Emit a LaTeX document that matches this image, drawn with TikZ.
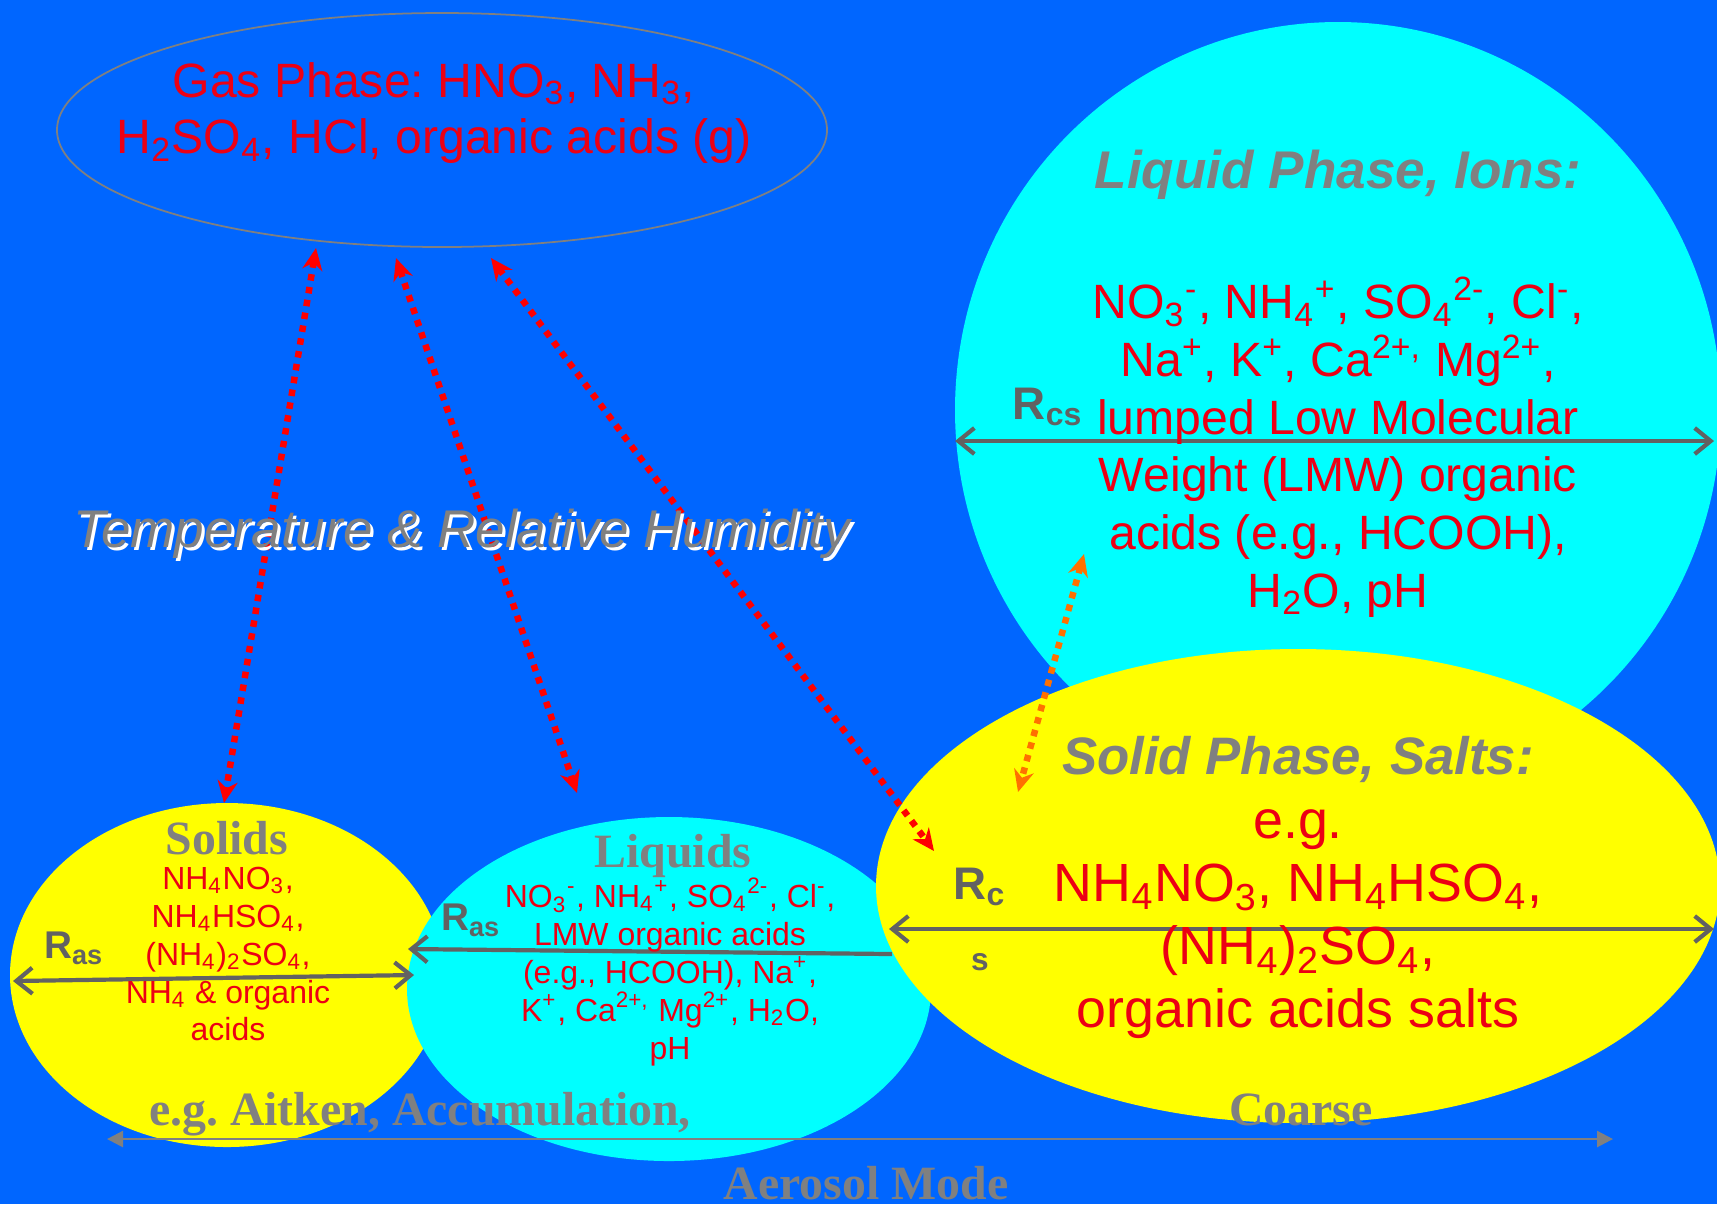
\documentclass[tikz,border=0pt]{standalone}
\usepackage{fontspec}
\setmainfont{Liberation Sans}
\newfontfamily\timesfont{Liberation Serif}
\usetikzlibrary{shapes.geometric,arrows.meta}
\frenchspacing

\definecolor{bgblue}{RGB}{0,102,255}
\definecolor{ionscyan}{RGB}{0,255,255}
\definecolor{saltyellow}{RGB}{255,255,0}
\definecolor{inkred}{RGB}{236,0,20}
\definecolor{dotred}{RGB}{255,0,0}
\definecolor{titlegray}{RGB}{128,128,128}
\definecolor{ratedark}{RGB}{98,98,98}
\definecolor{dotorange}{RGB}{255,112,0}

\begin{document}
\begin{tikzpicture}[x=0.1mm,y=-0.1mm,
    blob/.style={ellipse,inner sep=0pt,outer sep=0pt},
    redink/.style={text=inkred,align=center},
    bigred/.style={redink,font=\fontsize{13.7}{16.4}\selectfont},
    smallred/.style={redink,font=\fontsize{9.1}{10.8}\selectfont},
    phasetitle/.style={text=titlegray,font=\fontsize{15.1}{18}\selectfont\bfseries\itshape},
    modetitle/.style={text=titlegray,font=\fontsize{13.6}{16}\selectfont\timesfont\bfseries},
    ratelabel/.style={text=ratedark,font=\fontsize{#1}{#1}\selectfont\bfseries},
    rate/.style={draw=ratedark,line width=0.42mm},
    heat/.style={line width=0.65mm,dash pattern=on 0.65mm off 0.65mm},
    ratetip/.tip={Straight Barb[length=1.6mm,width=2.6mm]},
    heattip/.tip={Stealth[length=2.2mm,width=2mm]},
    modetip/.tip={Triangle[length=1.6mm,width=1.6mm]}]

    % Fondo
    \useasboundingbox (0,0) rectangle (1717,1204);
    \clip (0,0) rectangle (1717,1204);
    \fill[bgblue] (0,0) rectangle (1717,1204);

    % Solidos y liquidos (modos finos)
    \node[blob,fill=saltyellow,minimum width=43.4mm,minimum height=34.4mm] (solids) at (227,975) {};
    \node[blob,fill=ionscyan,minimum width=52.4mm,minimum height=34.4mm] (liquids) at (669,989) {};
    \coordinate (liqR) at (892,954);
    \coordinate (liqL) at (408,949);
    \draw[rate,ratetip-] (liqL) -- (liqR);

    % Fase liquida
    \node[blob,fill=ionscyan,minimum width=76.6mm,minimum height=77.6mm] (ions) at (1338,410) {};
    \coordinate (ionsL) at (955,441);
    \coordinate (ionsR) at (1714,441);
    \draw[rate,ratetip-ratetip] (ionsL) -- (ionsR);

    % Fase solida
    \node[blob,fill=saltyellow,minimum width=84.4mm,minimum height=47.4mm] (salts) at (1298,886) {};
    \coordinate (saltsL) at (889,929);
    \coordinate (saltsR) at (1714,929);
    \draw[rate,ratetip-ratetip] (saltsL) -- (saltsR);

    \coordinate (solL) at (13,981);
    \coordinate (solR) at (414,975);
    \draw[rate,ratetip-ratetip] (solL) -- (solR);

    % Fase gaseosa
    \node[blob,draw=titlegray,line width=0.5pt,minimum width=77mm,minimum height=23.4mm] (gas) at (442,130) {};

    % Flechas punteadas
    \coordinate (g1) at (316,248);
    \coordinate (s1) at (224,803);
    \coordinate (g2) at (396,258);
    \coordinate (l2) at (577,793);
    \coordinate (g3) at (491,258);
    \coordinate (c3) at (934,851);
    \coordinate (i4) at (1084,554);
    \coordinate (c4) at (1018,792);
    \draw[heat,dotred,heattip-heattip] (g1) -- (s1);
    \draw[heat,dotred,heattip-heattip] (g2) -- (l2);
    \draw[heat,dotred,heattip-heattip] (g3) -- (c3);
    \draw[heat,dotorange,heattip-heattip] (i4) -- (c4);

    % Modo del aerosol
    \coordinate (modeL) at (107,1139);
    \coordinate (modeR) at (1613,1139);
    \draw[titlegray,line width=0.25mm,modetip-modetip] (modeL) -- (modeR);

    % Textos
    \node[bigred,font=\fontsize{13.7}{16.2}\selectfont] (gastext) at (434,113)
        {Gas Phase: HNO\textsubscript{3}, NH\textsubscript{3},\\
         H\textsubscript{2}SO\textsubscript{4}, HCl, organic acids (g)};

    \node[phasetitle] (ionstitle) at (1338,175) {Liquid Phase, Ions:};
    \node[bigred] (ionstext) at (1338,447)
        {NO\textsubscript{3}\textsuperscript{-}, NH\textsubscript{4}\textsuperscript{+}, SO\textsubscript{4}\textsuperscript{2-}, Cl\textsuperscript{-},\\
         Na\textsuperscript{+}, K\textsuperscript{+}, Ca\textsuperscript{2+,} Mg\textsuperscript{2+},\\
         lumped Low Molecular\\
         Weight (LMW) organic\\
         acids (e.g., HCOOH),\\
         H\textsubscript{2}O, pH};
    \node[ratelabel=13] (rcs) at (1048,407) {R\textsubscript{cs}};

    \node[phasetitle,font=\fontsize{15}{18}\selectfont\bfseries\itshape] (saltstitle) at (1298,759) {Solid Phase, Salts:};
    \node[redink,font=\fontsize{15.3}{18}\selectfont] (saltstext) at (1298,924)
        {e.g.\\
         NH\textsubscript{4}NO\textsubscript{3}, NH\textsubscript{4}HSO\textsubscript{4},\\
         (NH\textsubscript{4})\textsubscript{2}SO\textsubscript{4},\\
         organic acids salts};
    \node[ratelabel=13] (rc) at (980,887) {R\textsubscript{c}};
    \node[ratelabel=9] (rcsub) at (980,962) {s};

    \node[modetitle] (solidstitle) at (227,838) {Solids};
    \node[smallred] (solidstext) at (228,954)
        {NH\textsubscript{4}NO\textsubscript{3},\\
         NH\textsubscript{4}HSO\textsubscript{4},\\
         (NH\textsubscript{4})\textsubscript{2}SO\textsubscript{4},\\
         NH\textsubscript{4} \& organic\\
         acids};
    \node[ratelabel=11] (ras1) at (74,948) {R\textsubscript{as}};

    \node[modetitle] (liquidstitle) at (673,856) {Liquids};
    \node[smallred] (liquidstext) at (670,972)
        {NO\textsubscript{3}\textsuperscript{-}, NH\textsubscript{4}\textsuperscript{+}, SO\textsubscript{4}\textsuperscript{2-}, Cl\textsuperscript{-},\\
         LMW organic acids\\
         (e.g., HCOOH), Na\textsuperscript{+},\\
         K\textsuperscript{+}, Ca\textsuperscript{2+,} Mg\textsuperscript{2+}, H\textsubscript{2}O,\\
         pH};
    \node[ratelabel=11] (ras2) at (471,920) {R\textsubscript{as}};

    \node[text=white,font=\fontsize{15.1}{18}\selectfont\itshape] (rhshadow) at (465,537) {Temperature \& Relative Humidity};
    \node[text=titlegray,font=\fontsize{15.1}{18}\selectfont\itshape] (rh) at (462,534) {Temperature \& Relative Humidity};

    \node[modetitle] (finemodes) at (420,1114) {e.g. Aitken, Accumulation,};
    \node[modetitle] (coarse) at (1301,1110) {Coarse};
    \node[modetitle,anchor=base] (mode) at (866,1199) {Aerosol Mode};
\end{tikzpicture}
\end{document}
